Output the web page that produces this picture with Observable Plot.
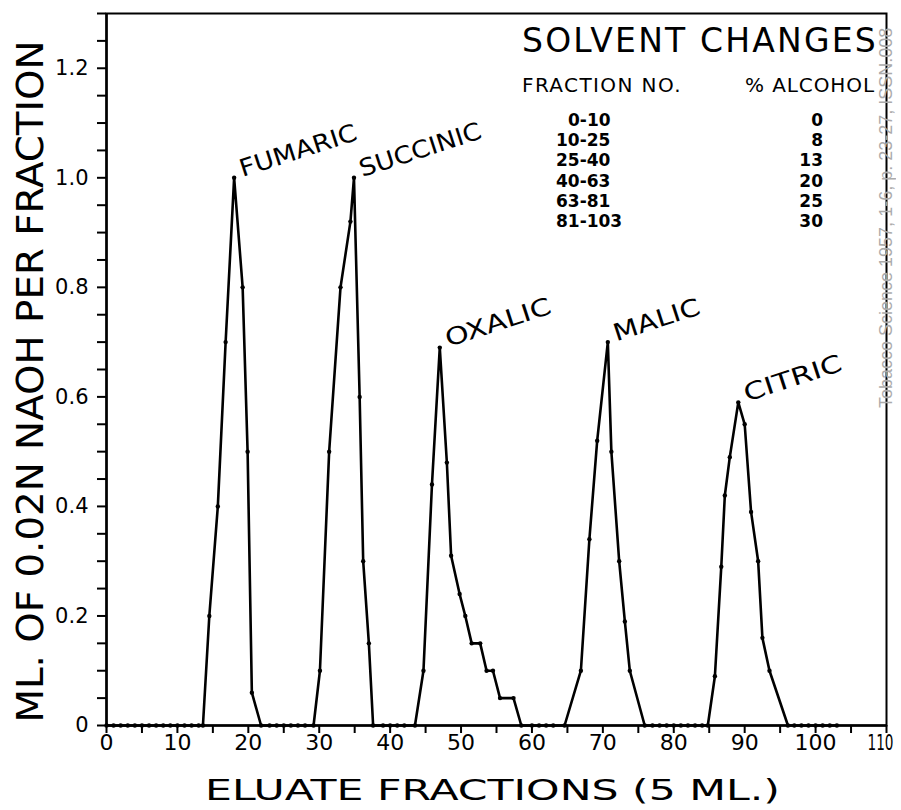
<!DOCTYPE html>
<html>
<head>
<meta charset="utf-8">
<script src="https://cdn.jsdelivr.net/npm/d3@7"></script>
<script src="https://cdn.jsdelivr.net/npm/@observablehq/plot@0.6"></script>
<style>
  body { margin: 0; background: #fff; }
  #wrap { position: relative; width: 901px; height: 810px; overflow: hidden; background: #fff; }
  #wrap svg { position: absolute; left: 0; top: 0; }
  .tbl { position: absolute; font-family: "DejaVu Sans", sans-serif; color: #000; white-space: nowrap; }
  .wm { position: absolute; font-family: "Liberation Sans", sans-serif; color: #ababab; white-space: nowrap;
        writing-mode: vertical-rl; transform: rotate(180deg); font-size: 18px; }
</style>
</head>
<body>
<div id="wrap"></div>
<script>
// ---------- data ----------
const acidNames = ["FUMARIC", "SUCCINIC", "OXALIC", "MALIC", "CITRIC"];

const fumaricX = [13.6, 14.5, 15.7, 16.8, 18.0, 19.2, 19.9, 20.5, 21.8];
const fumaricY = [0, 0.20, 0.40, 0.70, 1.00, 0.80, 0.50, 0.06, 0];

const succinicX = [29.2, 30.1, 31.4, 33.0, 34.4, 34.9, 35.7, 36.2, 37.0, 37.6];
const succinicY = [0, 0.10, 0.50, 0.80, 0.92, 1.00, 0.60, 0.30, 0.15, 0];

const oxalicX = [43.5, 44.7, 45.9, 47.0, 48.0, 48.6, 49.8, 50.6, 51.5, 52.7, 53.6, 54.5, 55.5, 57.4, 58.5];
const oxalicY = [0, 0.10, 0.44, 0.69, 0.48, 0.31, 0.24, 0.20, 0.15, 0.15, 0.10, 0.10, 0.05, 0.05, 0];

const malicX = [64.6, 66.9, 68.1, 69.2, 70.7, 71.2, 72.3, 73.1, 73.8, 75.9];
const malicY = [0, 0.10, 0.34, 0.52, 0.70, 0.50, 0.30, 0.19, 0.10, 0];

const citricX = [84.8, 85.8, 86.7, 87.2, 87.9, 89.1, 90.0, 90.9, 91.9, 92.5, 93.5, 96.1];
const citricY = [0, 0.09, 0.29, 0.42, 0.49, 0.59, 0.55, 0.39, 0.30, 0.16, 0.10, 0];

// fractions with no acid (value 0) between the peaks
const zeroFractions0 = [0, 1, 2, 3, 4, 5, 6, 7, 8, 9, 10, 11, 12, 13];
const zeroFractions1 = [23, 24, 25, 26, 27, 28];
const zeroFractions2 = [39, 40, 41, 42];
const zeroFractions3 = [60, 61, 62, 63];
const zeroFractions4 = [77, 78, 79, 80, 81, 82, 83, 84];
const zeroFractions5 = [97, 98, 99, 100, 101, 102, 103];

const xTickValues = [0, 10, 20, 30, 40, 50, 60, 70, 80, 90, 100, 110];
const yTickValues = [0, 0.2, 0.4, 0.6, 0.8, 1.0, 1.2];

const solventFractions = ["0-10", "10-25", "25-40", "40-63", "63-81", "81-103"];
const solventAlcohol = ["0", "8", "13", "20", "25", "30"];

const xTitle = "ELUATE FRACTIONS (5 ML.)";
const yTitle = "ML. OF 0.02N NAOH PER FRACTION";
const tableTitle = "SOLVENT CHANGES";
const tableHeadLeft = "FRACTION NO.";
const tableHeadRight = "% ALCOHOL";
const watermark = "Tobacco Science 1957, 1-6, p. 23-27, ISSN.008";

// ---------- build table ----------
const zip = (xs, ys) => xs.map((x, i) => ({x, y: ys[i]}));
const zeros = xs => xs.map(x => ({x, y: 0}));
const acidSeries = [
  zip(fumaricX, fumaricY), zip(succinicX, succinicY), zip(oxalicX, oxalicY),
  zip(malicX, malicY), zip(citricX, citricY)
];
const allPoints = [
  ...zeros(zeroFractions0), ...acidSeries[0],
  ...zeros(zeroFractions1), ...acidSeries[1],
  ...zeros(zeroFractions2), ...acidSeries[2],
  ...zeros(zeroFractions3), ...acidSeries[3],
  ...zeros(zeroFractions4), ...acidSeries[4],
  ...zeros(zeroFractions5)
];
const peaks = acidSeries.map((s, i) => {
  const m = d3.greatest(s, d => d.y);
  return {name: acidNames[i], x: m.x, y: m.y};
});

const fmtY = d => d === 0 ? "0" : d3.format(".1f")(d);

const chart = Plot.plot({
  width: 901,
  height: 810,
  marginLeft: 106,
  marginRight: 15,
  marginTop: 13,
  marginBottom: 85,
  x: {domain: [0, 110]},
  y: {domain: [0, 1.3]},
  style: {fontFamily: "DejaVu Sans, sans-serif", background: "#fff", color: "#000"},
  marks: [
    Plot.frame({stroke: "#000", strokeWidth: 2}),
    Plot.axisX({ticks: d3.range(0, 111, 5), tickSize: 8, strokeWidth: 2, tickFormat: () => "", label: null}),
    Plot.axisX({ticks: xTickValues, tickSize: 0, tickPadding: 9, fontSize: 22, label: null}),
    Plot.axisY({ticks: d3.range(0, 1.301, 0.05), tickSize: 9, strokeWidth: 2, tickFormat: () => "", label: null}),
    Plot.axisY({ticks: yTickValues, tickSize: 0, tickPadding: 18, fontSize: 21, tickFormat: fmtY, label: null}),
    Plot.ruleY([0], {stroke: "#000", strokeWidth: 2.5}),
    Plot.ruleX([0], {stroke: "#000", strokeWidth: 2.5}),
    Plot.line(allPoints, {x: "x", y: "y", stroke: "#000", strokeWidth: 2.6, strokeLinejoin: "round"}),
    Plot.dot(allPoints, {x: "x", y: "y", r: 2.2, fill: "#000", stroke: "none"}),
    Plot.text(peaks, {x: "x", y: "y", text: "name", rotate: -18, textAnchor: "start", lineAnchor: "middle",
                      dx: 6, dy: -8, fontSize: 24, fill: "#000"}),
    Plot.text([yTitle], {text: d => d, frameAnchor: "left", rotate: -90, dx: -76, dy: 12, fontSize: 38,
                         textAnchor: "middle", lineAnchor: "middle", fill: "#000"}),
    Plot.text([xTitle], {text: d => d, frameAnchor: "bottom", dx: -4, dy: 66, fontSize: 28,
                         textAnchor: "middle", lineAnchor: "middle", fill: "#000"})
  ]
});

const wrap = document.getElementById("wrap");
wrap.appendChild(chart);

// fit the hand-lettered texts to their lengths in the reference
const fitLengths = new Map([
  [yTitle, 682], [xTitle, 575], ["110", 26],
  ["FUMARIC", 122], ["SUCCINIC", 127], ["OXALIC", 110], ["MALIC", 90], ["CITRIC", 102]
]);
d3.select(chart).selectAll("text").each(function () {
  const L = fitLengths.get(this.textContent);
  if (L) { this.setAttribute("textLength", L); this.setAttribute("lengthAdjust", "spacingAndGlyphs"); }
  if (this.textContent === "110") {
    // last tick label sits at the page edge: anchor it by its end, a little inside the page
    this.setAttribute("text-anchor", "end");
    this.setAttribute("dx", 7);
  }
});

// ---------- solvent-change table (legend) ----------
function addText(txt, left, top, size, opts = {}) {
  const el = document.createElement("div");
  el.className = "tbl";
  el.textContent = txt;
  el.style.fontSize = size + "px";
  el.style.lineHeight = "1";
  el.style.top = top + "px";
  if (opts.right != null) el.style.right = opts.right + "px"; else el.style.left = left + "px";
  if (opts.weight) el.style.fontWeight = opts.weight;
  wrap.appendChild(el);
  if (opts.width) {
    const w = el.getBoundingClientRect().width;
    const n = txt.length;
    el.style.letterSpacing = ((opts.width - w) / n) + "px";
  }
  return el;
}
addText(tableTitle, 522, 24, 33, {width: 356});
addText(tableHeadLeft, 522, 75, 20, {width: 160});
addText(tableHeadRight, 0, 75, 20, {right: 26, width: 130});
solventFractions.forEach((f, i) => {
  addText(f, i === 0 ? 568 : 556, 112 + i * 20.2, 17, {weight: 600});
  addText(solventAlcohol[i], 0, 112 + i * 20.2, 17, {right: 78, weight: 600});
});

// watermark
const wm = document.createElement("div");
wm.className = "wm";
wm.textContent = watermark;
wm.style.left = "876px";
wm.style.top = "0px";
wm.style.height = "408px";
wm.style.textAlign = "left";
wrap.appendChild(wm);
</script>
</body>
</html>
